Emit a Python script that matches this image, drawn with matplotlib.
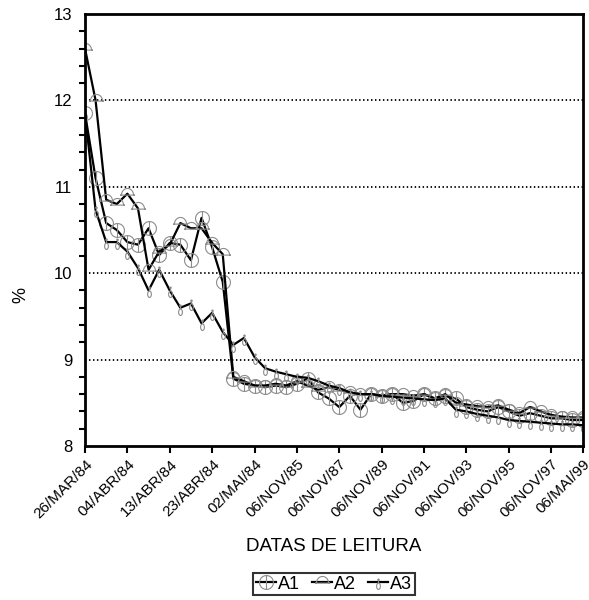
import numpy as np
import matplotlib.pyplot as plt
from matplotlib.path import Path
from matplotlib.ticker import MultipleLocator

plt.rcParams['font.family'] = ['Liberation Sans', 'DejaVu Sans']

labels = ['26/MAR/84', '04/ABR/84', '13/ABR/84', '23/ABR/84', '02/MAI/84',
          '06/NOV/85', '06/NOV/87', '06/NOV/89', '06/NOV/91', '06/NOV/93',
          '06/NOV/95', '06/NOV/97', '06/MAI/99']
label_idx = [0, 4, 8, 12, 16, 20, 24, 28, 32, 36, 40, 44, 47]

a1 = [11.85, 11.10, 10.58, 10.50, 10.36, 10.33, 10.52, 10.21, 10.35, 10.33,
      10.15, 10.64, 10.30, 9.90, 8.78, 8.72, 8.70, 8.68, 8.70, 8.68,
      8.72, 8.78, 8.62, 8.55, 8.45, 8.58, 8.42, 8.60, 8.58, 8.60,
      8.50, 8.52, 8.60, 8.55, 8.58, 8.55, 8.45, 8.42, 8.40, 8.45,
      8.40, 8.35, 8.38, 8.35, 8.32, 8.32, 8.30, 8.30]
a2 = [12.60, 12.00, 10.85, 10.80, 10.92, 10.75, 10.04, 10.25, 10.33, 10.58,
      10.52, 10.52, 10.35, 10.22, 8.80, 8.75, 8.70, 8.70, 8.72, 8.70,
      8.75, 8.70, 8.65, 8.68, 8.65, 8.62, 8.60, 8.60, 8.58, 8.60,
      8.60, 8.58, 8.60, 8.55, 8.60, 8.50, 8.48, 8.46, 8.45, 8.47,
      8.42, 8.38, 8.45, 8.40, 8.36, 8.34, 8.33, 8.33]
a3 = [11.85, 10.73, 10.36, 10.36, 10.25, 10.06, 9.80, 10.04, 9.80, 9.60,
      9.65, 9.42, 9.54, 9.32, 9.17, 9.25, 9.03, 8.90, 8.86, 8.83,
      8.80, 8.79, 8.75, 8.70, 8.67, 8.62, 8.60, 8.60, 8.58, 8.57,
      8.56, 8.55, 8.54, 8.53, 8.55, 8.42, 8.40, 8.37, 8.35, 8.33,
      8.30, 8.29, 8.28, 8.27, 8.26, 8.25, 8.25, 8.24]


def circle_pts(cx, cy, rx, ry, n=40):
    t = np.linspace(0, 2 * np.pi, n)
    return list(zip(cx + rx * np.cos(t), cy + ry * np.sin(t)))


def make_path(parts):
    verts, codes = [], []
    for pts in parts:
        verts += pts
        codes += [Path.MOVETO] + [Path.LINETO] * (len(pts) - 1)
    return Path(verts, codes)


# circle with a stroke, dome, narrow oval on a stick
m_a1 = make_path([circle_pts(0, 0, 1, 1), [(0, -1), (0, 1)]])
dome = [(np.cos(t), np.sin(t) * 1.1 - 0.1) for t in np.linspace(0, np.pi, 25)]
m_a2 = make_path([dome + [(-1.15, -0.1), (1.15, -0.1), (1, -0.1)]])
m_a3 = make_path([circle_pts(0, -0.75, 0.38, 0.65), [(0, -0.1), (0, 0.7)],
                  circle_pts(0, 0.55, 0.15, 0.15, 16)])

x = np.arange(len(a1))

fig = plt.figure(figsize=(5.89, 6.0), dpi=100)
ax = fig.add_axes([0.1443, 0.2567, 0.8455, 0.72])

mk = dict(mfc='none', mec='#8c8c8c', mew=0.8, color='black', lw=1.6)
ax.plot(x, a1, marker=m_a1, ms=10, label='A1', **mk)
ax.plot(x, a2, marker=m_a2, ms=10, label='A2', **mk)
ax.plot(x, a3, marker=m_a3, ms=10, label='A3', **mk)

ax.set_xlim(0, len(a1) - 1)
ax.set_ylim(8, 13)
ax.yaxis.set_major_locator(MultipleLocator(1))
ax.yaxis.set_minor_locator(MultipleLocator(0.2))
ax.set_xticks(label_idx)
ax.set_xticklabels(labels, rotation=45, ha='right', rotation_mode='anchor')
ax.tick_params(axis='y', which='major', length=0, pad=9, labelsize=12)
ax.tick_params(axis='y', which='minor', length=4, width=1.5, direction='out')
ax.tick_params(axis='x', length=5, width=1.5, direction='out', labelsize=11, pad=3)
for s in ax.spines.values():
    s.set_linewidth(2)
for yv in [9, 10, 11, 12]:
    ax.axhline(yv, color='black', lw=1.3, ls=(0, (0.8, 1.4)), zorder=0)

ax.set_ylabel('%', fontsize=13)
ax.yaxis.set_label_coords(-0.112, 0.35)
ax.set_xlabel('DATAS DE LEITURA', fontsize=13.5, labelpad=12)

leg = ax.legend(loc='center', bbox_to_anchor=(0.5, -0.32), ncol=3,
                frameon=True, fancybox=False, edgecolor='black', fontsize=13,
                handlelength=1.1, handletextpad=0.1, columnspacing=0.7,
                borderpad=0.15, borderaxespad=0)
leg.get_frame().set_linewidth(1.5)

fig.savefig('out.png', dpi=100)
